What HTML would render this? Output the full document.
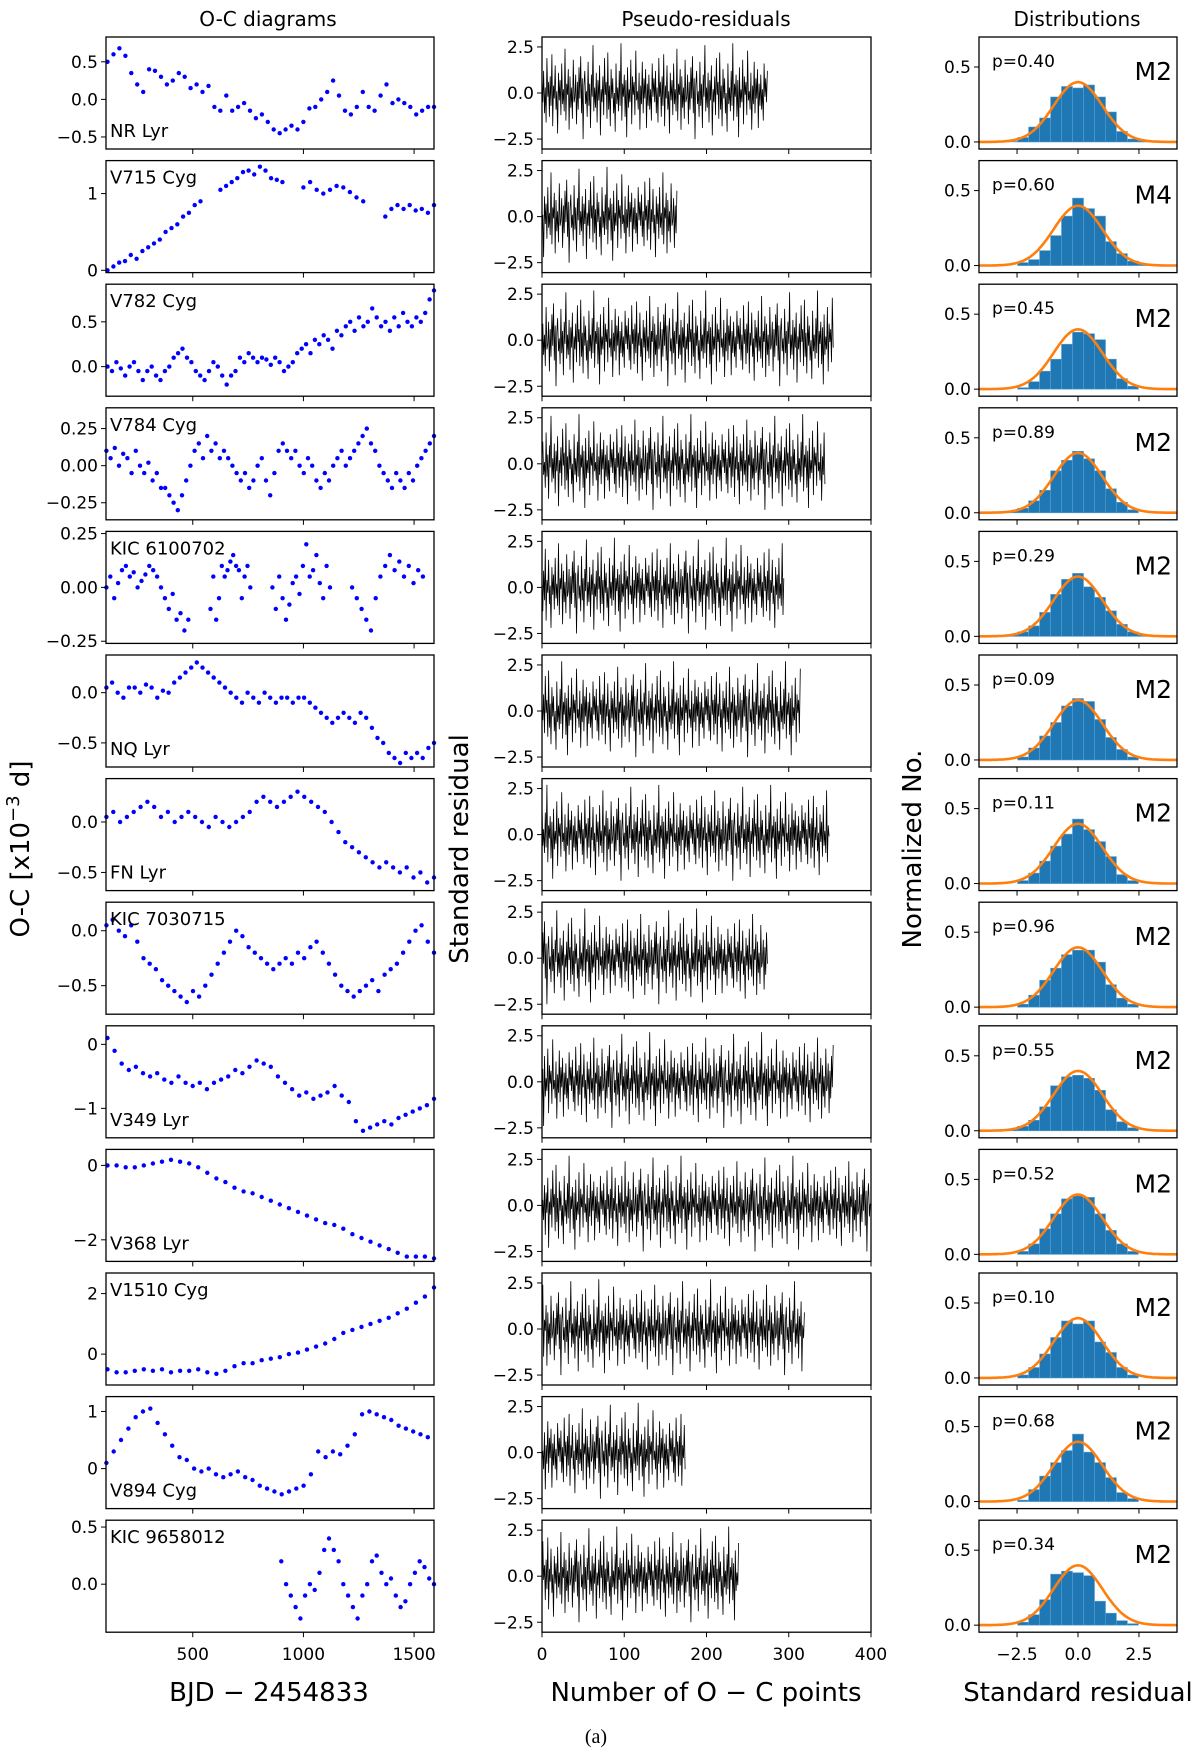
<!DOCTYPE html>
<html><head><meta charset="utf-8"><style>
html,body{margin:0;padding:0;background:#fff;}
svg{display:block;font-family:"DejaVu Sans","Liberation Sans",sans-serif;}
</style></head><body>
<svg id="fig" width="1200" height="1752" viewBox="0 0 1200 1752" xmlns="http://www.w3.org/2000/svg">
<text x="268" y="26" font-size="20" text-anchor="middle">O-C diagrams</text>
<text x="706" y="26" font-size="20" text-anchor="middle">Pseudo-residuals</text>
<text x="1077" y="26" font-size="20" text-anchor="middle">Distributions</text>
<text transform="translate(29,849) rotate(-90)" font-size="26" text-anchor="middle">O-C [x10<tspan dy="-10" font-size="18">−3</tspan><tspan dy="10"> d]</tspan></text>
<text transform="translate(468,849) rotate(-90)" font-size="26" text-anchor="middle">Standard residual</text>
<text transform="translate(921,849) rotate(-90)" font-size="26" text-anchor="middle">Normalized No.</text>
<text x="269" y="1701" font-size="26" text-anchor="middle">BJD − 2454833</text>
<text x="706" y="1701" font-size="26" text-anchor="middle">Number of O − C points</text>
<text x="1078" y="1701" font-size="26" text-anchor="middle">Standard residual</text>
<text x="596" y="1743" font-size="20" text-anchor="middle" font-family="Liberation Serif,serif">(a)</text>
</svg>
<script>
// ---- data ----
const starNames=["NR Lyr","V715 Cyg","V782 Cyg","V784 Cyg","KIC 6100702","NQ Lyr","FN Lyr","KIC 7030715","V349 Lyr","V368 Lyr","V1510 Cyg","V894 Cyg","KIC 9658012"];
const labelBottom=[true,false,false,false,false,true,true,false,true,true,false,true,false];
const pValues=["0.40","0.60","0.45","0.89","0.29","0.09","0.11","0.96","0.55","0.52","0.10","0.68","0.34"];
const modelNames=["M2","M4","M2","M2","M2","M2","M2","M2","M2","M2","M2","M2","M2"];
const ocYDomain=[[-0.66,0.83],[-0.03,1.43],[-0.33,0.92],[-0.365,0.39],[-0.26,0.26],[-0.74,0.375],[-0.68,0.43],[-0.76,0.26],[-1.46,0.29],[-2.58,0.43],[-1.02,2.68],[-0.7,1.26],[-0.42,0.56]];
const ocTicks=[[0.5,0,-0.5],[1,0],[0.5,0],[0.25,0,-0.25],[0.25,0,-0.25],[0,-0.5],[0,-0.5],[0,-0.5],[0,-1],[0,-2],[2,0],[1,0],[0.5,0]];
const ocTickLabels=[["0.5","0.0","−0.5"],["1","0"],["0.5","0.0"],["0.25","0.00","−0.25"],["0.25","0.00","−0.25"],["0.0","−0.5"],["0.0","−0.5"],["0.0","−0.5"],["0","−1"],["0","−2"],["2","0"],["1","0"],["0.5","0.0"]];
const ocXTicks=[500,1000,1500];
// O-C segments: [startBJD, endBJD, values]
const ocNR=[[115,1590,[0.5,0.6,0.68,0.58,0.35,0.2,0.1,0.4,0.38,0.3,0.2,0.25,0.35,0.3,0.15,0.2,0.1,0.18,-0.1,-0.15,0.05,-0.15,-0.1,-0.05,-0.15,-0.25,-0.2,-0.3,-0.4,-0.45,-0.4,-0.35,-0.4,-0.3,-0.12,-0.1,0,0.1,0.25,0.05,-0.15,-0.2,-0.1,0.1,-0.1,-0.15,0.05,0.2,-0.05,0,-0.05,-0.1,-0.2,-0.15,-0.1,-0.1]]];
const ocV715=[[115,535,[0,0.05,0.1,0.12,0.2,0.15,0.25,0.3,0.35,0.4,0.5,0.55,0.6,0.7,0.75,0.85,0.9]],[625,905,[1.05,1.1,1.15,1.2,1.28,1.3,1.25,1.35,1.3,1.2,1.18,1.15]],[1000,1270,[1.08,1.15,1.05,1.0,1.05,1.1,1.08,1.02,0.95,0.9]],[1370,1590,[0.7,0.8,0.85,0.8,0.85,0.78,0.8,0.75,0.85]]];
const ocV782=[[115,1590,[0,-0.05,0.05,-0.02,-0.1,0,0.05,-0.05,-0.15,-0.05,0,-0.1,-0.15,-0.05,0,0.1,0.15,0.2,0.1,0.05,-0.05,-0.1,-0.15,-0.05,0.05,0,-0.1,-0.2,-0.1,-0.05,0.1,0.05,0.15,0.1,0.05,0.1,0.08,0.02,0.1,0.05,-0.05,0,0.05,0.15,0.2,0.25,0.15,0.3,0.25,0.35,0.3,0.2,0.4,0.35,0.45,0.5,0.4,0.55,0.45,0.5,0.65,0.55,0.45,0.5,0.4,0.55,0.45,0.6,0.5,0.45,0.55,0.5,0.6,0.75,0.85]]];
const ocV784=[[110,1590,[0.1,0.05,0.12,0,0.08,0.05,-0.05,0.1,0,-0.05,0.02,-0.1,-0.05,-0.15,-0.15,-0.2,-0.25,-0.3,-0.2,-0.1,0,0.1,0.15,0.05,0.2,0.1,0.15,0.05,0.1,0.05,0,-0.05,-0.1,-0.05,-0.15,-0.1,0,0.05,-0.1,-0.2,-0.05,0.1,0.15,0.1,0.05,0.1,0,-0.05,0.05,0,-0.1,-0.15,-0.05,-0.1,0,0.05,0.1,0,0.05,0.1,0.15,0.2,0.25,0.15,0.1,0,-0.05,-0.1,-0.15,-0.05,-0.1,-0.15,-0.05,-0.1,0,0.05,0.1,0.15,0.2]]];
const ocK61=[[110,480,[0,0.05,-0.05,0.02,0.08,0.1,0.05,0.07,0,0.03,0.06,0.1,0.08,0.05,0,-0.05,-0.1,-0.03,-0.15,-0.12,-0.2,-0.15]],[580,760,[-0.1,0.05,-0.15,-0.05,0.1,0.05,0.08,0.12,0.15,0.1,0.08,-0.05,0.05,0.1,0]],[860,1120,[0,-0.1,0.05,-0.05,-0.15,-0.08,0.02,0.05,-0.03,0.1,0.2,0.05,0.08,0.15,0.02,-0.05,0.1,0]],[1220,1540,[0,-0.05,-0.1,-0.15,-0.2,-0.05,0.05,0.1,0.15,0.08,0.12,0.05,0.1,0.02,0.08,0.05]]];
const ocNQ=[[110,1590,[0.05,0.1,0,-0.05,0.05,0.05,0,0.08,0.05,-0.05,0.02,0,0.1,0.15,0.2,0.25,0.3,0.25,0.2,0.15,0.1,0.05,0,-0.05,-0.1,0,-0.05,-0.1,0,-0.05,-0.1,-0.05,-0.05,-0.1,-0.05,-0.05,-0.1,-0.15,-0.2,-0.25,-0.3,-0.25,-0.2,-0.25,-0.3,-0.2,-0.25,-0.35,-0.45,-0.5,-0.6,-0.65,-0.7,-0.6,-0.65,-0.6,-0.65,-0.55,-0.5]]];
const ocFN=[[110,1590,[0.05,0.1,0,0.05,0.1,0.15,0.2,0.15,0.05,0.1,0,0.05,0.1,0.05,0,-0.05,0.05,0,-0.05,0,0.05,0.1,0.2,0.25,0.2,0.15,0.2,0.25,0.3,0.25,0.2,0.15,0.1,0,-0.1,-0.2,-0.25,-0.3,-0.35,-0.4,-0.45,-0.4,-0.45,-0.5,-0.45,-0.55,-0.5,-0.6,-0.55]]];
const ocK70=[[110,1590,[0.05,0.1,0,-0.05,0.05,-0.1,-0.25,-0.3,-0.35,-0.45,-0.5,-0.55,-0.6,-0.65,-0.55,-0.6,-0.5,-0.4,-0.3,-0.2,-0.1,0,-0.05,-0.15,-0.2,-0.25,-0.3,-0.35,-0.3,-0.25,-0.3,-0.2,-0.25,-0.15,-0.1,-0.2,-0.3,-0.4,-0.5,-0.55,-0.6,-0.55,-0.5,-0.45,-0.55,-0.4,-0.35,-0.3,-0.2,-0.1,0,0.05,-0.1,-0.2]]];
const ocV349=[[115,1590,[0.1,-0.1,-0.3,-0.4,-0.35,-0.45,-0.5,-0.45,-0.55,-0.6,-0.5,-0.6,-0.65,-0.6,-0.7,-0.6,-0.55,-0.5,-0.4,-0.45,-0.35,-0.25,-0.3,-0.35,-0.5,-0.6,-0.7,-0.8,-0.75,-0.85,-0.8,-0.75,-0.65,-0.8,-0.9,-1.2,-1.35,-1.3,-1.25,-1.2,-1.25,-1.15,-1.1,-1.05,-1.0,-0.95,-0.85]]];
const ocV368=[[115,1590,[0,0,-0.05,-0.05,0,0.05,0.1,0.15,0.1,0.05,-0.05,-0.2,-0.35,-0.45,-0.6,-0.7,-0.75,-0.85,-0.95,-1.05,-1.15,-1.25,-1.35,-1.45,-1.55,-1.6,-1.7,-1.85,-1.95,-2.05,-2.15,-2.25,-2.35,-2.45,-2.45,-2.45,-2.5]]];
const ocV1510=[[115,1590,[-0.5,-0.6,-0.6,-0.55,-0.5,-0.55,-0.5,-0.6,-0.55,-0.55,-0.5,-0.6,-0.65,-0.55,-0.4,-0.3,-0.3,-0.2,-0.15,-0.1,0,0.05,0.15,0.25,0.35,0.5,0.7,0.8,0.9,1.0,1.1,1.2,1.35,1.5,1.7,1.9,2.2]]];
const ocV894=[[110,1562,[0.1,0.3,0.5,0.7,0.9,1.0,1.05,0.8,0.6,0.4,0.2,0.15,0,-0.05,0,-0.1,-0.15,-0.1,-0.05,-0.15,-0.2,-0.3,-0.35,-0.4,-0.45,-0.4,-0.35,-0.3,-0.1,0.3,0.2,0.3,0.25,0.4,0.6,0.95,1.0,0.95,0.9,0.85,0.75,0.7,0.65,0.6,0.55]]];
const ocK96=[[900,1590,[0.2,0,-0.1,-0.2,-0.3,-0.1,0,-0.05,0.1,0.3,0.4,0.3,0.2,0,-0.1,-0.2,-0.3,-0.1,0,0.2,0.25,0.1,0,0.05,-0.1,-0.2,-0.15,0,0.1,0.2,0.15,0.05,0]]];
const ocSeries=[ocNR,ocV715,ocV782,ocV784,ocK61,ocNQ,ocFN,ocK70,ocV349,ocV368,ocV1510,ocV894,ocK96];
// residuals
const residualCounts=[275,165,355,345,295,315,350,275,355,400,320,175,240];
const residualOffsets=[0,17,33,51,8,72,90,44,101,63,27,115,5];
const residualNoise=[0.8,-0.5,1.2,-1.1,0.3,-1.6,1.9,-0.2,0.6,-1.3,0.9,-0.7,2.1,-1.8,0.4,-0.3,1.5,-0.9,0.1,-2.2,1.1,-0.4,0.7,-1.2,1.6,-0.6,0.2,-1.0,2.4,-1.5,0.5,-0.1,1.3,-2.0,0.9,-0.8,0.3,-1.4,1.8,-0.5,-0.2,1.0,-1.7,0.6,-0.9,1.4,-0.3,2.0,-1.1,0.8,-2.5,0.4,1.2,-0.6,0.1,-1.3,1.7,-0.7,0.5,-1.9,1.0,-0.2,2.6,-1.0,0.3,-0.8,1.1,-1.6,0.7,-0.4,1.5,-2.3,0.2,-0.5,0.9,-1.2,1.9,-0.1,0.6,-1.4,2.2,-0.9,0.4,-1.8,1.3,-0.3,0.8,-1.1,0.0,-2.1,1.6,-0.6,0.3,-1.0,1.2,-0.7,2.7,-1.5,0.5,-0.2,1.0,-1.3,0.7,-2.4,1.4,-0.8,0.2,-0.5,1.8,-1.7,0.9,-0.1,0.6,-1.2,2.3,-0.4,0.1,-0.9,1.1,-2.0,0.4,-0.6,1.7,-1.1,0.8,-0.3,1.3,-1.9,0.5,-0.7,1.0,-0.9,0.2,-1.5,1.6,-0.2];
const resYTicks=[2.5,0,-2.5];
const resYTickLabels=["2.5","0.0","−2.5"];
const resXTicks=[0,100,200,300,400];
// histograms
const binCenters=[-2.7,-2.25,-1.8,-1.35,-0.9,-0.45,0,0.45,0.9,1.35,1.8,2.25,2.7];
const hist0=[0.005,0.03,0.1,0.16,0.3,0.37,0.36,0.38,0.3,0.2,0.07,0.02,0.01];
const hist1=[0,0.02,0.04,0.1,0.2,0.33,0.45,0.38,0.33,0.16,0.08,0.03,0.01];
const hist2=[0,0.01,0.05,0.12,0.2,0.3,0.38,0.37,0.33,0.2,0.07,0.02,0];
const hist3=[0.01,0.03,0.08,0.15,0.28,0.35,0.41,0.36,0.28,0.16,0.07,0.02,0];
const hist4=[0.01,0.03,0.07,0.16,0.28,0.38,0.42,0.33,0.26,0.17,0.08,0.03,0.01];
const hist5=[0,0.02,0.08,0.16,0.25,0.36,0.41,0.39,0.27,0.15,0.07,0.02,0];
const hist6=[0,0.02,0.07,0.15,0.25,0.33,0.43,0.36,0.28,0.18,0.06,0.02,0];
const hist7=[0,0.02,0.08,0.18,0.26,0.35,0.38,0.38,0.3,0.15,0.06,0.02,0];
const hist8=[0.01,0.03,0.07,0.16,0.3,0.36,0.37,0.35,0.27,0.14,0.06,0.02,0];
const hist9=[0,0.02,0.07,0.17,0.27,0.37,0.39,0.38,0.27,0.16,0.07,0.02,0];
const hist10=[0,0.02,0.07,0.16,0.27,0.38,0.36,0.38,0.24,0.17,0.07,0.02,0];
const hist11=[0,0.01,0.08,0.17,0.26,0.34,0.45,0.33,0.26,0.16,0.06,0.02,0];
const hist12=[0,0.02,0.07,0.17,0.34,0.36,0.35,0.33,0.16,0.08,0.03,0.01,0];
const histSeries=[hist0,hist1,hist2,hist3,hist4,hist5,hist6,hist7,hist8,hist9,hist10,hist11,hist12];
const distXTicks=[-2.5,0,2.5];
const distXTickLabels=["−2.5","0.0","2.5"];
const distYTicks=[0.5,0];
const distYTickLabels=["0.5","0.0"];

// ---- layout ----
const NS="http://www.w3.org/2000/svg";
const svg=document.getElementById('fig');
const ROW0=37, ROWSTEP=123.6, ROWH=112;
const C1=[106,434], C2=[542,871], C3=[979,1177];
const binW=0.45;
function mk(tag,attrs,parent){const e=document.createElementNS(NS,tag);for(const k in attrs)e.setAttribute(k,attrs[k]);(parent||svg).appendChild(e);return e;}
function lin(d0,d1,r0,r1){return v=>r0+(v-d0)/(d1-d0)*(r1-r0);}

for(let r=0;r<13;r++){
  const top=ROW0+r*ROWSTEP, bot=top+ROWH, last=(r===12);
  // ===== O-C panel =====
  const g1=mk('g',{});
  
  
  const xs=lin(108,1590,C1[0],C1[1]);
  const ys=lin(ocYDomain[r][0],ocYDomain[r][1],bot,top);
  ocSeries[r].forEach(seg=>{
    const n=seg[2].length;
    seg[2].forEach((v,i)=>{
      const t=seg[0]+(n>1?i*(seg[1]-seg[0])/(n-1):0);
      const c=mk('circle',{cx:xs(t).toFixed(1),cy:ys(v).toFixed(1),r:2.2,fill:'#0000ff'},g1);
      
      
    });
  });
  const f1=mk('rect',{x:C1[0],y:top,width:C1[1]-C1[0],height:ROWH,fill:'none',stroke:'#000','stroke-width':1.3},g1);
  
  
  ocTicks[r].forEach((tv,i)=>{
    const y=ys(tv);
    mk('line',{x1:C1[0]-5,x2:C1[0],y1:y,y2:y,stroke:'#000','stroke-width':1},g1);
    const tl=mk('text',{x:C1[0]-8,y:y+6,'font-size':17,'text-anchor':'end'},g1);
    
    
    tl.textContent=ocTickLabels[r][i];
  });
  ocXTicks.forEach(tv=>{
    const x=xs(tv);
    mk('line',{x1:x,x2:x,y1:bot,y2:bot+5,stroke:'#000','stroke-width':1},g1);
    if(last){const tl=mk('text',{x:x,y:bot+28,'font-size':17,'text-anchor':'middle'},g1);
      
      
      tl.textContent=String(tv);}
  });
  const lab=mk('text',{x:C1[0]+4,y:labelBottom[r]?bot-12:top+23,'font-size':18},g1);
  
  
  lab.textContent=starNames[r];

  // ===== residual panel =====
  const g2=mk('g',{});
  
  
  const xr=lin(0,400,C2[0],C2[1]);
  const yr=lin(-3.04,3.04,bot,top);
  let pts=[];
  const L=residualNoise.length;
  for(let i=0;i<residualCounts[r];i++){
    const v=residualNoise[(residualOffsets[r]+i)%L];
    pts.push(xr(i).toFixed(1)+','+yr(v).toFixed(1));
  }
  const pl=mk('polyline',{points:pts.join(' '),fill:'none',stroke:'#000','stroke-width':0.8},g2);
  
  
  const f2=mk('rect',{x:C2[0],y:top,width:C2[1]-C2[0],height:ROWH,fill:'none',stroke:'#000','stroke-width':1.3},g2);
  
  
  resYTicks.forEach((tv,i)=>{
    const y=yr(tv);
    mk('line',{x1:C2[0]-5,x2:C2[0],y1:y,y2:y,stroke:'#000','stroke-width':1},g2);
    const tl=mk('text',{x:C2[0]-8,y:y+6,'font-size':17,'text-anchor':'end'},g2);
    
    
    tl.textContent=resYTickLabels[i];
  });
  resXTicks.forEach(tv=>{
    const x=xr(tv);
    mk('line',{x1:x,x2:x,y1:bot,y2:bot+5,stroke:'#000','stroke-width':1},g2);
    if(last){const tl=mk('text',{x:x,y:bot+28,'font-size':17,'text-anchor':'middle'},g2);
      
      
      tl.textContent=String(tv);}
  });

  // ===== distribution panel =====
  const g3=mk('g',{});
  
  
  const xd=lin(-4.06,4.06,C3[0],C3[1]);
  const yd=lin(-0.047,0.7,bot,top);
  histSeries[r].forEach((h,i)=>{
    if(h<=0)return;
    const x0=xd(binCenters[i]-binW/2), x1=xd(binCenters[i]+binW/2);
    const b=mk('rect',{x:x0.toFixed(1),y:yd(h).toFixed(1),width:(x1-x0).toFixed(1),height:(yd(0)-yd(h)).toFixed(1),fill:'#1f77b4',stroke:'#5a9fd0','stroke-width':0.6},g3);
    
    
  });
  let gp=[];
  for(let k=0;k<=120;k++){const xv=-4.06+k*8.12/120;gp.push(xd(xv).toFixed(1)+','+yd(Math.exp(-xv*xv/2)/Math.sqrt(2*Math.PI)).toFixed(1));}
  const gc=mk('polyline',{points:gp.join(' '),fill:'none',stroke:'#ff7f0e','stroke-width':2.6},g3);
  
  
  const f3=mk('rect',{x:C3[0],y:top,width:C3[1]-C3[0],height:ROWH,fill:'none',stroke:'#000','stroke-width':1.3},g3);
  
  
  distYTicks.forEach((tv,i)=>{
    const y=yd(tv);
    mk('line',{x1:C3[0]-5,x2:C3[0],y1:y,y2:y,stroke:'#000','stroke-width':1},g3);
    const tl=mk('text',{x:C3[0]-8,y:y+6,'font-size':17,'text-anchor':'end'},g3);
    
    
    tl.textContent=distYTickLabels[i];
  });
  distXTicks.forEach((tv,i)=>{
    const x=xd(tv);
    mk('line',{x1:x,x2:x,y1:bot,y2:bot+5,stroke:'#000','stroke-width':1},g3);
    if(last){const tl=mk('text',{x:x,y:bot+28,'font-size':17,'text-anchor':'middle'},g3);
      
      
      tl.textContent=distXTickLabels[i];}
  });
  const pt=mk('text',{x:C3[0]+13,y:top+30,'font-size':17},g3);
  
  
  pt.textContent='p='+pValues[r];
  const mt=mk('text',{x:C3[1]-5,y:top+43,'font-size':25,'text-anchor':'end'},g3);
  
  
  mt.textContent=modelNames[r];
}
</script>
</body></html>
